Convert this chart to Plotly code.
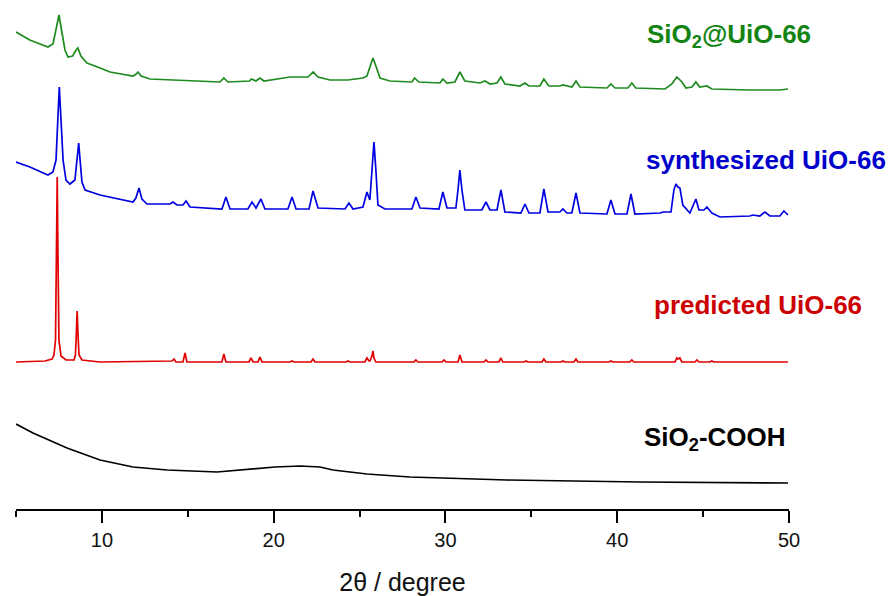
import plotly.graph_objects as go

# ---- data (2theta in degree, intensity in a.u., stacked) ----
sio2_uio_x = [5.0, 5.8, 6.86, 7.15, 7.3, 7.5, 7.68, 7.85, 8.03, 8.3, 8.5, 8.6, 8.78, 9.13, 9.9, 10.47,
              11.8, 12.0, 12.1, 12.28, 12.8, 14.55, 16.87, 17.1, 17.34, 18.6, 18.7, 18.97, 19.2, 19.43,
              20.95, 22.0, 22.3, 22.58, 23.28, 24.32, 25.2, 25.43, 25.6, 25.78, 25.95, 26.19, 26.77,
              28.05, 28.2, 28.45, 29.68, 29.85, 30.08, 30.55, 30.84, 31.13, 32.0, 32.3, 32.6, 33.0,
              33.23, 33.46, 34.33, 34.63, 34.86, 35.5, 35.73, 36.02, 36.66, 36.84, 37.36, 37.6, 37.83,
              39.4, 39.63, 39.87, 40.62, 40.85, 41.08, 42.78, 43.18, 43.47, 43.77, 44.0, 44.35, 44.58,
              44.8, 45.22, 45.51, 47.72, 49.47, 49.94]
sio2_uio_y = [477, 469, 462, 465, 477, 494, 476, 459, 452, 453, 459, 461, 453, 446, 441, 437,
              433, 435, 437, 433, 430, 429, 427, 431, 427, 428, 430, 428, 431, 428,
              432, 432, 437, 432, 429, 429, 431, 433, 441, 451, 443, 431, 428,
              427, 431, 427, 426, 430, 426, 427, 437, 428, 426, 428, 425, 426,
              432, 425, 423, 426, 423, 423, 430, 423, 423, 424, 422, 428, 422,
              421, 425, 421, 421, 426, 421, 420, 425, 432, 427, 421, 422, 427,
              422, 423, 420, 419, 419, 420]

synth_x = [5.0, 5.81, 6.86, 7.15, 7.33, 7.44, 7.52, 7.62, 7.74, 7.91, 8.14, 8.43, 8.55, 8.65, 8.73,
           8.84, 9.02, 9.89, 11.81, 11.98, 12.16, 12.33, 12.62, 13.96, 14.14, 14.37, 14.72, 14.9,
           15.13, 16.99, 17.22, 17.46, 18.5, 18.74, 18.97, 19.26, 19.49, 20.83, 21.07, 21.3, 22.06,
           22.29, 22.58, 24.15, 24.38, 24.62, 25.2, 25.43, 25.6, 25.72, 25.84, 25.95, 26.07, 26.48,
           28.05, 28.28, 28.52, 29.62, 29.85, 30.09, 30.61, 30.73, 30.84, 30.96, 31.13, 32.12, 32.36,
           32.59, 33.0, 33.23, 33.46, 34.39, 34.63, 34.86, 35.5, 35.73, 35.97, 36.66, 36.84, 37.07,
           37.36, 37.6, 37.83, 39.4, 39.63, 39.87, 40.57, 40.8, 41.03, 42.49, 42.66, 43.13, 43.3,
           43.42, 43.53, 43.65, 43.82, 44.23, 44.41, 44.58, 44.76, 45.05, 45.22, 45.51, 45.98, 47.72,
           47.9, 48.3, 48.6, 48.89, 49.47, 49.7, 49.94]
synth_y = [347, 342, 334, 337, 349, 389, 422, 389, 349, 329, 325, 329, 349, 366, 349,
           327, 319, 314, 307, 311, 321, 310, 305, 305, 307, 304, 304, 308,
           302, 300, 312, 300, 300, 307, 301, 310, 300, 300, 312, 300, 300,
           318, 301, 300, 306, 300, 302, 317, 309, 339, 367, 339, 304, 300,
           300, 312, 301, 300, 317, 301, 301, 319, 339, 319, 299, 299, 307,
           299, 299, 319, 297, 296, 305, 296, 296, 320, 297, 297, 300, 296,
           296, 316, 296, 295, 309, 295, 295, 315, 295, 296, 297, 297, 319,
           325, 322, 321, 304, 296, 304, 310, 299, 299, 302, 296, 292, 293,
           294, 293, 297, 293, 293, 298, 294]

pred_x = [5.0, 6.69, 7.1, 7.21, 7.3, 7.36, 7.4, 7.44, 7.5, 7.62, 7.91, 8.38, 8.46, 8.51, 8.56, 8.61,
          8.67, 8.84, 9.89, 14.08, 14.2, 14.31, 14.72, 14.84, 14.95, 16.99, 17.1, 17.22, 18.56,
          18.68, 18.8, 19.09, 19.2, 19.32, 20.95, 21.07, 21.19, 22.17, 22.29, 22.4, 24.21, 24.32,
          24.44, 25.31, 25.43, 25.55, 25.61, 25.72, 25.78, 25.84, 25.95, 28.17, 28.28, 28.4, 29.8,
          29.91, 30.03, 30.73, 30.84, 30.96, 32.24, 32.36, 32.47, 33.11, 33.23, 33.34, 34.57, 34.69,
          34.8, 35.62, 35.73, 35.85, 36.72, 36.84, 36.95, 37.48, 37.6, 37.71, 39.51, 39.63, 39.75,
          40.73, 40.85, 40.97, 43.36, 43.47, 43.53, 43.65, 43.76, 44.52, 44.64, 44.76, 45.39, 45.51,
          45.63, 49.94]
pred_y = [147, 148, 150, 154, 169, 259, 332, 259, 169, 153, 149, 149, 154, 174, 198, 174,
          154, 149, 147, 148, 150, 147, 147, 156, 147, 147, 155, 147, 147,
          151, 147, 147, 152, 147, 147, 148, 147, 147, 150, 147, 147, 148,
          147, 147, 151, 148, 148, 153, 158, 151, 147, 147, 149, 147, 147,
          149, 147, 147, 154, 147, 147, 149, 147, 147, 151, 147, 147, 148,
          147, 147, 150, 147, 147, 148, 147, 147, 150, 147, 147, 148, 147,
          147, 149, 147, 147, 151, 150, 151, 147, 147, 149, 147, 147, 148,
          147, 147]

sio2_cooh_x = [5.0, 5.99, 7.97, 9.89, 11.81, 13.79, 16.7, 18.62, 20.07, 21.53, 22.7, 23.45, 25.43,
               27.93, 30.26, 33.58, 41.32, 49.94]
sio2_cooh_y = [85, 76, 61, 49, 42, 39, 37, 40, 42, 43, 42, 39, 35, 32, 31, 29, 27, 26]

labels = ["SiO<sub>2</sub>@UiO-66", "synthesized UiO-66", "predicted UiO-66", "SiO<sub>2</sub>-COOH"]
label_x = [41.61, 41.55, 42.02, 41.44]
label_y = [474, 349, 204, 71]
colors = ["#1f8a1f", "#0000e0", "#e00000", "#000000"]
label_colors = ["#138413", "#0000cc", "#cc0000", "#000000"]

series = [(sio2_uio_x, sio2_uio_y), (synth_x, synth_y), (pred_x, pred_y), (sio2_cooh_x, sio2_cooh_y)]

fig = go.Figure()
# draw order: black, red, blue, green (blue above red)
for idx in [3, 2, 1, 0]:
    xs, ys = series[idx]
    fig.add_trace(go.Scatter(x=xs, y=ys, mode="lines",
                             line=dict(color=colors[idx], width=1.7),
                             showlegend=False, hoverinfo="skip"))

for t, lx, ly, lc in zip(labels, label_x, label_y, label_colors):
    fig.add_annotation(x=lx, y=ly, xref="x", yref="y", text="<b>" + t + "</b>",
                       showarrow=False, xanchor="left", yanchor="middle",
                       font=dict(family="Arial, Liberation Sans, sans-serif", size=26, color=lc))

fig.update_layout(
    width=893, height=596,
    margin=dict(l=16, r=104, t=0, b=87),
    paper_bgcolor="white", plot_bgcolor="white",
    font=dict(family="Arial, Liberation Sans, sans-serif", color="#111"),
    xaxis=dict(range=[5, 50], showgrid=False, zeroline=False,
               showline=True, linecolor="black", linewidth=2,
               ticks="outside", ticklen=12, tickwidth=2, tickcolor="black",
               tick0=0, dtick=10, tickfont=dict(size=20, color="#111"),
               minor=dict(ticks="outside", ticklen=6, tickwidth=2, tickcolor="black",
                          tick0=0, dtick=5, showgrid=False),
               title=dict(text="2\u03b8 / degree", font=dict(size=25, color="#111"), standoff=26)),
    yaxis=dict(range=[0, 509], visible=False),
)

fig.write_html("out.html", config={"displayModeBar": False},
               post_script="document.body.style.margin='0';document.body.style.overflow='hidden';")
